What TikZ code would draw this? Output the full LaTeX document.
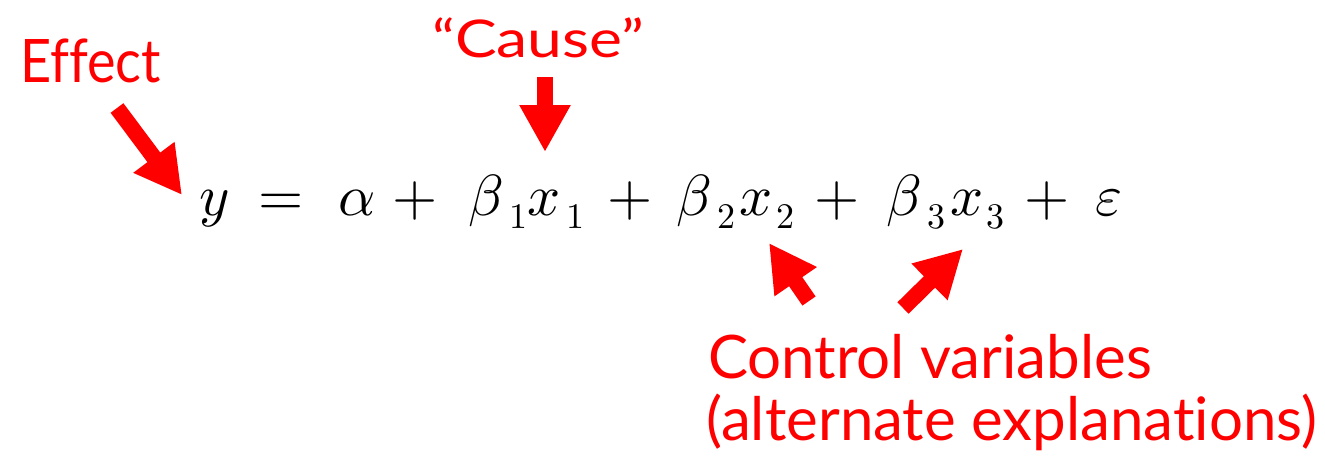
\documentclass[tikz,border=0pt]{standalone}
\usepackage{fontspec}
\usepackage{unicode-math}
\setmainfont{Lato}[Ligatures=NoCommon]
\setmathfont{Latin Modern Math}
\usetikzlibrary{arrows.meta}
\definecolor{lblred}{RGB}{255,0,0}
\tikzset{
  lab/.style={text=lblred, font=\fontsize{60}{62}\selectfont, inner sep=0pt, anchor=base west},
  term/.style={font=\fontsize{58}{58}\selectfont, inner sep=0pt, anchor=base west},
  subterm/.style={font=\fontsize{36}{36}\selectfont, inner sep=0pt, anchor=base west},
  blockarrow/.style={draw=lblred, line width=16pt, -{Triangle[length=47pt,width=48pt]}}
}
\begin{document}
\begin{tikzpicture}[x=1pt,y=-1pt]
\useasboundingbox (0,0) rectangle (1325,466);
% labels
\node[lab, font=\fontsize{60}{62}\selectfont\addfontfeature{FakeStretch=0.9}] (effect) at (20,82) {Effect};
\node[lab, font=\fontsize{52}{62}\selectfont\addfontfeature{FakeStretch=1.2}] (cause) at (432,57) {“Cause”};
\node[lab] (control) at (708,378) {Control variables};
\node[lab] (altern) at (706,440) {(alternate explanations)};
% equation
\node[term] (ty) at (199,215) {$y$};
\node[term] (teq) at (258,215) {$=$};
\node[term] (ta) at (338,215) {$\alpha$};
\node[term] (tp1) at (392,215) {$+$};
\node[term] (tb1) at (468,215) {$\beta$};
\node[subterm] (tb1s) at (509,228) {$1$};
\node[term] (tx1) at (527,215) {$x$};
\node[subterm] (tx1s) at (566,228) {$1$};
\node[term] (tp2) at (607,215) {$+$};
\node[term] (tb2) at (676,215) {$\beta$};
\node[subterm] (tb2s) at (717,228) {$2$};
\node[term] (tx2) at (739,215) {$x$};
\node[subterm] (tx2s) at (776,228) {$2$};
\node[term] (tp3) at (814,215) {$+$};
\node[term] (tb3) at (886,215) {$\beta$};
\node[subterm] (tb3s) at (927,228) {$3$};
\node[term] (tx3) at (950,215) {$x$};
\node[subterm] (tx3s) at (986,228) {$3$};
\node[term] (tp4) at (1024,215) {$+$};
\node[term] (te) at (1095,215) {$\varepsilon$};
% arrow end points
\coordinate (effTail) at (117,108);
\coordinate (effTip) at (182,195);
\coordinate (cauTail) at (545,77);
\coordinate (cauTip) at (545,152);
\coordinate (x2Tail) at (809,301);
\coordinate (x2Tip) at (769,243);
\coordinate (x3Tail) at (903,308);
\coordinate (x3Tip) at (963,249);
\draw[blockarrow] (effTail) -- (effTip);
\draw[blockarrow] (cauTail) -- (cauTip);
\draw[blockarrow] (x2Tail) -- (x2Tip);
\draw[blockarrow] (x3Tail) -- (x3Tip);
\end{tikzpicture}
\end{document}
